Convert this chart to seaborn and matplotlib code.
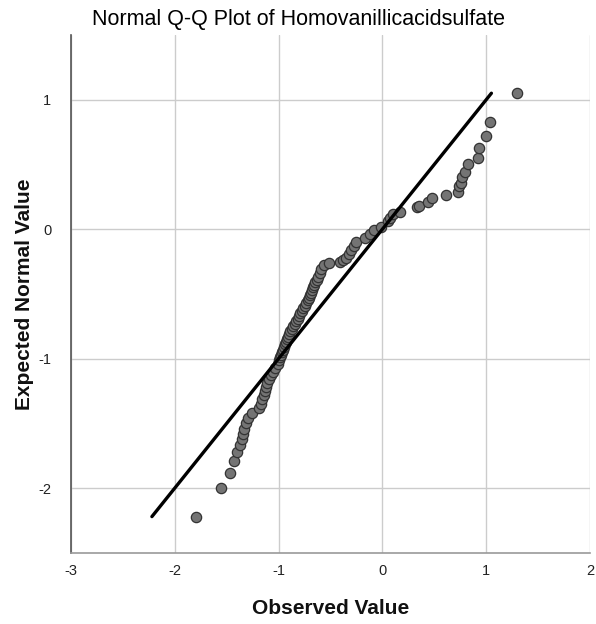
import pandas as pd
import matplotlib.pyplot as plt
import seaborn as sns

observed = [
    -1.80, -1.55, -1.47, -1.43, -1.40, -1.37, -1.35, -1.34, -1.33, -1.31,
    -1.29, -1.26, -1.19, -1.17, -1.16,
    -1.14, -1.13, -1.12, -1.11, -1.09, -1.07, -1.05, -1.03, -1.01,
    -1.00, -0.99, -0.98, -0.97, -0.96, -0.95, -0.94, -0.93, -0.92, -0.91,
    -0.90, -0.89, -0.87, -0.86, -0.84, -0.83, -0.81, -0.80, -0.79, -0.77,
    -0.76, -0.75, -0.74, -0.72, -0.71, -0.70, -0.69, -0.68, -0.67, -0.66,
    -0.65, -0.63, -0.62, -0.60, -0.59,
    -0.56, -0.51, -0.41, -0.38, -0.35, -0.32, -0.30, -0.27, -0.25, -0.17,
    -0.12, -0.08, -0.01, 0.05,
    0.07, 0.10, 0.17, 0.33, 0.35, 0.44, 0.48, 0.61, 0.73, 0.74,
    0.76, 0.77, 0.80, 0.82, 0.92, 0.93, 1.00, 1.04, 1.30,
]
expected = [
    -2.22, -2.00, -1.88, -1.79, -1.72, -1.67, -1.62, -1.58, -1.54, -1.50,
    -1.46, -1.42, -1.38, -1.35, -1.31,
    -1.28, -1.25, -1.22, -1.19, -1.16, -1.13, -1.10, -1.07, -1.04,
    -1.01, -0.99, -0.97, -0.95, -0.93, -0.91, -0.89, -0.87, -0.85, -0.83,
    -0.81, -0.79, -0.77, -0.75, -0.73, -0.71, -0.69, -0.67, -0.65, -0.63,
    -0.61, -0.59, -0.57, -0.55, -0.53, -0.51, -0.49, -0.47, -0.45, -0.43,
    -0.41, -0.39, -0.37, -0.34, -0.31,
    -0.28, -0.26, -0.25, -0.24, -0.22, -0.19, -0.16, -0.13, -0.10, -0.07,
    -0.04, -0.01, 0.02, 0.06,
    0.09, 0.12, 0.13, 0.17, 0.18, 0.21, 0.24, 0.26, 0.29, 0.33,
    0.36, 0.40, 0.44, 0.50, 0.55, 0.63, 0.72, 0.83, 1.05,
]
x_ticks = [-3, -2, -1, 0, 1, 2]
y_ticks = [-2, -1, 0, 1]

df = pd.DataFrame({"Observed": observed, "Expected": expected})
ref = pd.DataFrame({"x": [min(expected), max(expected)],
                    "y": [min(expected), max(expected)]})

sns.set_theme(style="whitegrid")
plt.rcParams["font.family"] = ["Liberation Sans", "DejaVu Sans"]
plt.rcParams["axes.unicode_minus"] = False

fig = plt.figure(figsize=(5.96, 6.24), dpi=100)
ax = fig.add_axes([0.119, 0.114, 0.871, 0.830])

sns.scatterplot(data=df, x="Observed", y="Expected", ax=ax, s=55,
                color="#747474", edgecolor="#333333", linewidth=0.9, zorder=3)
sns.lineplot(data=ref, x="x", y="y", ax=ax, color="black", linewidth=2.4, zorder=4)

ax.set_xlim(-3, 2)
ax.set_ylim(-2.5, 1.5)
ax.set_xticks(x_ticks)
ax.set_yticks(y_ticks)
ax.grid(True, color="#cccccc", linewidth=1.0)
ax.tick_params(axis="x", length=0, labelsize=10.5, colors="#222222", pad=8)
ax.tick_params(axis="y", length=0, labelsize=10.5, colors="#222222", pad=14)

for side in ["top", "right"]:
    ax.spines[side].set_visible(False)
ax.spines["left"].set_color("#555555")
ax.spines["bottom"].set_color("#999999")
ax.spines["left"].set_linewidth(1.2)
ax.spines["bottom"].set_linewidth(1.2)

ax.set_xlabel("Observed Value", fontsize=15, fontweight="bold", labelpad=15, color="#111111")
ax.set_ylabel("Expected Normal Value", fontsize=15, fontweight="bold", labelpad=3, color="#111111")
fig.suptitle("Normal Q-Q Plot of Homovanillicacidsulfate", fontsize=15.5,
             x=0.5, y=0.986, color="black")

fig.savefig("out.png", dpi=100)
